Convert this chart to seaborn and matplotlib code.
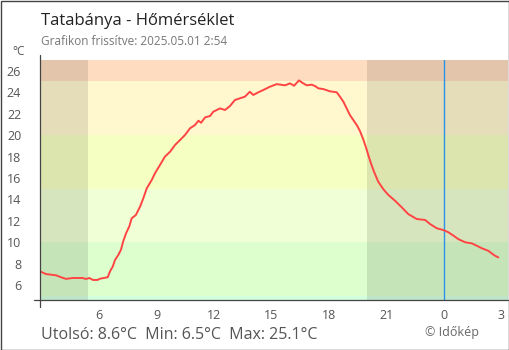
import matplotlib
matplotlib.use("Agg")
import matplotlib.pyplot as plt
import seaborn as sns
import pandas as pd
from matplotlib.patches import Rectangle

# Temperature readings, hour of day (next day continues past 24)
hours = [2.90, 3.21, 3.74, 4.00, 4.26, 4.61, 5.13, 5.30, 5.48, 5.66, 5.92, 6.00,
         6.44, 6.56, 6.70, 6.82, 6.99, 7.13, 7.25, 7.40, 7.57, 7.69, 7.91, 8.13,
         8.30, 8.48, 8.74, 8.91, 9.17, 9.43, 9.70, 9.96, 10.22, 10.48, 10.74, 11.00,
         11.18, 11.32, 11.53, 11.79, 11.96, 12.31, 12.57, 12.83, 13.09, 13.35, 13.61,
         13.87, 14.05, 14.31, 14.57, 14.92, 15.27, 15.71, 15.97, 16.18, 16.44, 16.61,
         16.84, 17.10, 17.28, 17.45, 17.71, 18.06, 18.41, 18.58, 18.76, 18.93, 19.10,
         19.28, 19.47, 19.62, 19.80, 19.95, 20.06, 20.20, 20.36, 20.58, 20.85, 21.11,
         21.46, 21.81, 22.15, 22.59, 23.03, 23.30, 23.65, 23.99, 24.25, 24.52, 24.78,
         25.13, 25.47, 25.73, 26.00, 26.33, 26.51, 26.68, 26.86]
temps = [7.3, 7.05, 6.93, 6.75, 6.6, 6.68, 6.68, 6.59, 6.68, 6.5, 6.5, 6.6,
         6.75, 7.3, 7.73, 8.36, 8.82, 9.3, 10.1, 10.85, 11.5, 12.24, 12.55, 13.33,
         14.11, 15.04, 15.81, 16.44, 17.21, 17.99, 18.45, 19.08, 19.54, 20.01, 20.63, 20.94,
         21.34, 21.15, 21.65, 21.78, 22.18, 22.49, 22.34, 22.71, 23.27, 23.43, 23.58,
         24.04, 23.74, 23.99, 24.2, 24.51, 24.75, 24.64, 24.82, 24.6, 25.1, 24.88,
         24.64, 24.7, 24.57, 24.36, 24.29, 24.08, 23.99, 23.58, 23.11, 22.49, 21.87,
         21.4, 20.9, 20.4, 19.6, 18.8, 18.14, 17.37, 16.59, 15.66, 14.95, 14.42,
         13.88, 13.27, 12.64, 12.18, 12.09, 11.7, 11.31, 11.15, 10.94, 10.62, 10.29,
         10.01, 9.91, 9.69, 9.45, 9.22, 8.98, 8.76, 8.6]

# Temperature bands behind the curve
band_edges = [0, 5, 10, 15, 20, 25, 40]
band_colors = ["#D4FFDE", "#DCFFCD", "#F0FFD5", "#F5FFC2", "#FFF7CE", "#FDDCBF"]

# Night periods (sunset / sunrise)
sunrise = 5.42
sunset = 19.97
midnight = 24

x_ticks = [6, 9, 12, 15, 18, 21, 24, 27]
x_labels = ["6", "9", "12", "15", "18", "21", "0", "3"]
y_ticks = [6, 8, 10, 12, 14, 16, 18, 20, 22, 24, 26]

title = "Tatabánya - Hőmérséklet"
subtitle = "Grafikon frissítve: 2025.05.01 2:54"
summary = "Utolsó: 8.6°C  Min: 6.5°C  Max: 25.1°C"
credit = "© Időkép"

sns.set_style("white")
plt.rcParams["font.family"] = ["Open Sans", "DejaVu Sans"]

W, H = 510, 350
fig = plt.figure(figsize=(W / 100, H / 100), dpi=100)
ax = fig.add_axes([40 / W, 1 - 300 / H, 468.5 / W, 240 / H])

xmin, xmax = 2.90, 27.39
ymin, ymax = 4.63, 27.0

for lo, hi, c in zip(band_edges[:-1], band_edges[1:], band_colors):
    ax.axhspan(lo, hi, color=c, lw=0, zorder=0)
ax.axvspan(xmin, sunrise, color="black", alpha=0.1, lw=0, zorder=1)
ax.axvspan(sunset, xmax, color="black", alpha=0.1, lw=0, zorder=1)
ax.axvline(midnight, color="#2A93E6", lw=1, zorder=2)

df = pd.DataFrame({"hour": hours, "temp": temps})
sns.lineplot(data=df, x="hour", y="temp", ax=ax, color="#FF4444", lw=1.4,
             zorder=3, estimator=None, sort=False)

ax.set_xlim(xmin, xmax)
ax.set_ylim(ymin, ymax)
ax.set_xlabel("")
ax.set_ylabel("")
ax.set_xticks(x_ticks)
ax.set_xticklabels(x_labels)
ax.set_yticks(y_ticks)
ax.grid(False)
for s in ax.spines.values():
    s.set_visible(False)

axis_col = "#444444"
ax.tick_params(axis="both", direction="inout", length=9, width=0.8,
               color=axis_col, labelcolor="#555555", labelsize=9)
ax.tick_params(axis="y", pad=9)
ax.tick_params(axis="x", pad=2)

# axis lines slightly overrunning the plot area
ax.plot([0, 0], [-0.028, 1.02], transform=ax.transAxes, color=axis_col,
        lw=0.9, clip_on=False, zorder=5)
ax.plot([-0.013, 1], [0, 0], transform=ax.transAxes, color=axis_col,
        lw=0.9, clip_on=False, zorder=5)

def px(x, y):
    return x / W, 1 - y / H

fig.text(*px(41, 25), title, fontsize=12, color="#222222", va="baseline")
fig.text(*px(41, 45), subtitle, fontsize=8.5, color="#777777", va="baseline")
fig.text(*px(12, 55), "°C", fontsize=8.5, color="#555555", va="baseline")
fig.text(*px(41, 339), summary, fontsize=11.5, color="#555555", va="baseline")
fig.text(*px(425, 336), credit, fontsize=9, color="#666666", va="baseline")

fig.patches.append(Rectangle((0.5 / W, 0.5 / H), 1 - 1.5 / W, 1 - 1.5 / H,
                             transform=fig.transFigure, fill=False,
                             edgecolor="#444444", lw=1))

fig.savefig("out.png", dpi=100)
